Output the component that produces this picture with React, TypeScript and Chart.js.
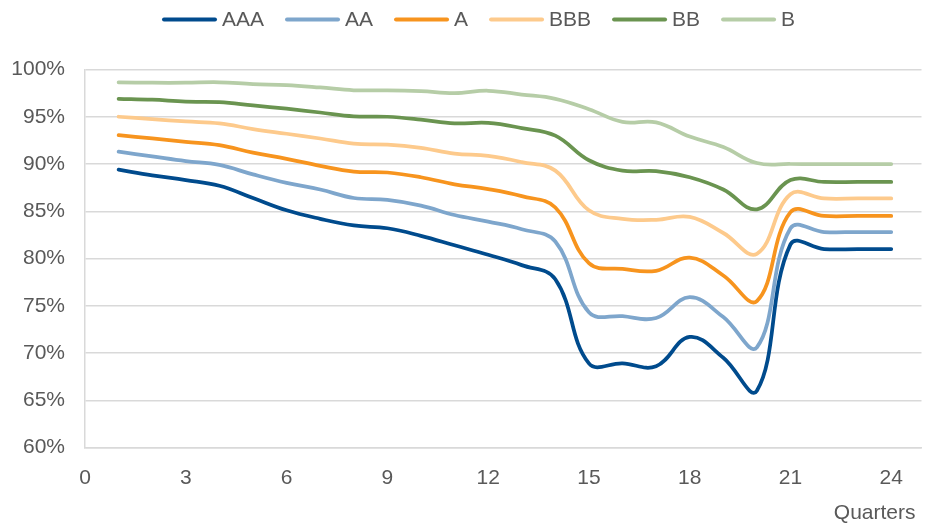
import React, { useEffect, useRef } from "react";
import { Chart, registerables } from "chart.js";

Chart.register(...registerables);

// ---- data ----
const QUARTERS = [1, 2, 3, 4, 5, 6, 7, 8, 9, 10, 11, 12, 13, 14, 15, 16, 17, 18, 19, 20, 21, 22, 23, 24];
const X_TICKS = [0, 3, 6, 9, 12, 15, 18, 21, 24];
const Y_TICKS = [60, 65, 70, 75, 80, 85, 90, 95, 100];
const SERIES_NAMES = ["AAA", "AA", "A", "BBB", "BB", "B"];

const AAA = [89.4, 88.8, 88.3, 87.7, 86.4, 85.1, 84.2, 83.5, 83.2, 82.4, 81.4, 80.4, 79.3, 77.8, 68.9, 68.9, 68.6, 71.7, 69.5, 66.0, 81.5, 81.0, 81.0, 81.0];
const AA = [91.3, 90.8, 90.3, 89.9, 88.9, 88.0, 87.3, 86.4, 86.2, 85.6, 84.6, 83.9, 83.1, 81.8, 74.3, 73.9, 73.7, 75.9, 73.8, 70.6, 83.2, 82.8, 82.8, 82.8];
const A = [93.05, 92.7, 92.35, 92.0, 91.2, 90.55, 89.8, 89.2, 89.1, 88.6, 87.85, 87.35, 86.6, 85.4, 79.5, 78.9, 78.7, 80.1, 78.2, 75.5, 84.9, 84.5, 84.5, 84.5];
const BBB = [95.0, 94.75, 94.5, 94.3, 93.7, 93.2, 92.7, 92.15, 92.05, 91.7, 91.1, 90.85, 90.2, 89.3, 85.1, 84.2, 84.1, 84.4, 82.7, 80.5, 86.8, 86.35, 86.35, 86.35];
const BB = [96.9, 96.8, 96.6, 96.55, 96.2, 95.85, 95.45, 95.05, 95.0, 94.7, 94.3, 94.35, 93.8, 93.0, 90.4, 89.3, 89.25, 88.6, 87.3, 85.2, 88.3, 88.1, 88.1, 88.1];
const B = [98.65, 98.6, 98.6, 98.65, 98.45, 98.35, 98.1, 97.8, 97.8, 97.7, 97.5, 97.75, 97.35, 96.9, 95.8, 94.45, 94.4, 92.9, 91.8, 90.1, 90.0, 90.0, 90.0, 90.0];

const SERIES_VALUES = [AAA, AA, A, BBB, BB, B];
const COLORS = ["#004B8D", "#7EA6CC", "#F7941E", "#FDCA8C", "#6A9450", "#B6CDA7"];
const X_TITLE = "Quarters";

const FONT_FAMILY = '"Liberation Sans", Arial, sans-serif';
const TEXT_COLOR = "#595959";
const GRID_COLOR = "#D9D9D9";

const overlayPlugin = {
  id: "overlay",
  afterDraw(chart: any) {
    const ctx = chart.ctx;
    ctx.save();
    ctx.font = `21px ${FONT_FAMILY}`;
    ctx.textBaseline = "middle";
    let x = 162;
    const y = 19.5;
    chart.data.datasets.forEach((ds: any) => {
      ctx.strokeStyle = ds.borderColor;
      ctx.lineWidth = 4;
      ctx.lineCap = "round";
      ctx.beginPath();
      ctx.moveTo(x + 2, y);
      ctx.lineTo(x + 53, y);
      ctx.stroke();
      x += 60;
      ctx.fillStyle = TEXT_COLOR;
      ctx.textAlign = "left";
      ctx.fillText(ds.label, x, y + 1);
      x += ctx.measureText(ds.label).width + 21;
    });
    ctx.fillStyle = TEXT_COLOR;
    ctx.textAlign = "right";
    const xs = chart.scales.x;
    ctx.fillText(X_TITLE, xs.right - 6, 513);
    ctx.restore();
  },
};

export default function App() {
  const ref = useRef<HTMLCanvasElement | null>(null);

  useEffect(() => {
    if (!ref.current) return;
    const font = { family: FONT_FAMILY, size: 21 };
    const chart = new Chart(ref.current, {
      type: "line",
      data: {
        datasets: SERIES_NAMES.map((name, i) => ({
          label: name,
          data: QUARTERS.map((q, j) => ({ x: q, y: SERIES_VALUES[i][j] })),
          borderColor: COLORS[i],
          backgroundColor: COLORS[i],
          borderWidth: 3.75,
          pointRadius: 0,
          tension: 0.4,
          fill: false,
          borderCapStyle: "round",
          borderJoinStyle: "round",
        })),
      },
      options: {
        responsive: false,
        animation: false,
        layout: { padding: { top: 69.5, right: 6.5, left: 0, bottom: 0 } },
        plugins: { legend: { display: false }, tooltip: { enabled: false } },
        scales: {
          x: {
            type: "linear",
            min: 0,
            max: 24.9,
            afterBuildTicks: (s: any) => {
              s.ticks = X_TICKS.map((v) => ({ value: v }));
            },
            afterFit: (s: any) => {
              s.height = 77.5;
            },
            grid: { display: false, drawTicks: false },
            border: { display: true, color: GRID_COLOR, width: 1.5 },
            ticks: { font, color: TEXT_COLOR, padding: 18, maxRotation: 0, autoSkip: false },
          },
          y: {
            min: 60,
            max: 100,
            afterBuildTicks: (s: any) => {
              s.ticks = Y_TICKS.map((v) => ({ value: v }));
            },
            afterFit: (s: any) => {
              s.width = 85;
            },
            grid: { color: GRID_COLOR, lineWidth: 1.5, drawTicks: false },
            border: { display: true, color: GRID_COLOR, width: 1.5 },
            ticks: { font, color: TEXT_COLOR, padding: 20, callback: (v: any) => `${v}%` },
          },
        },
      },
      plugins: [overlayPlugin],
    });
    return () => chart.destroy();
  }, []);

  return (
    <canvas
      ref={ref}
      width={928}
      height={525}
      style={{ position: "absolute", left: 0, top: 0, display: "block" }}
    />
  );
}
